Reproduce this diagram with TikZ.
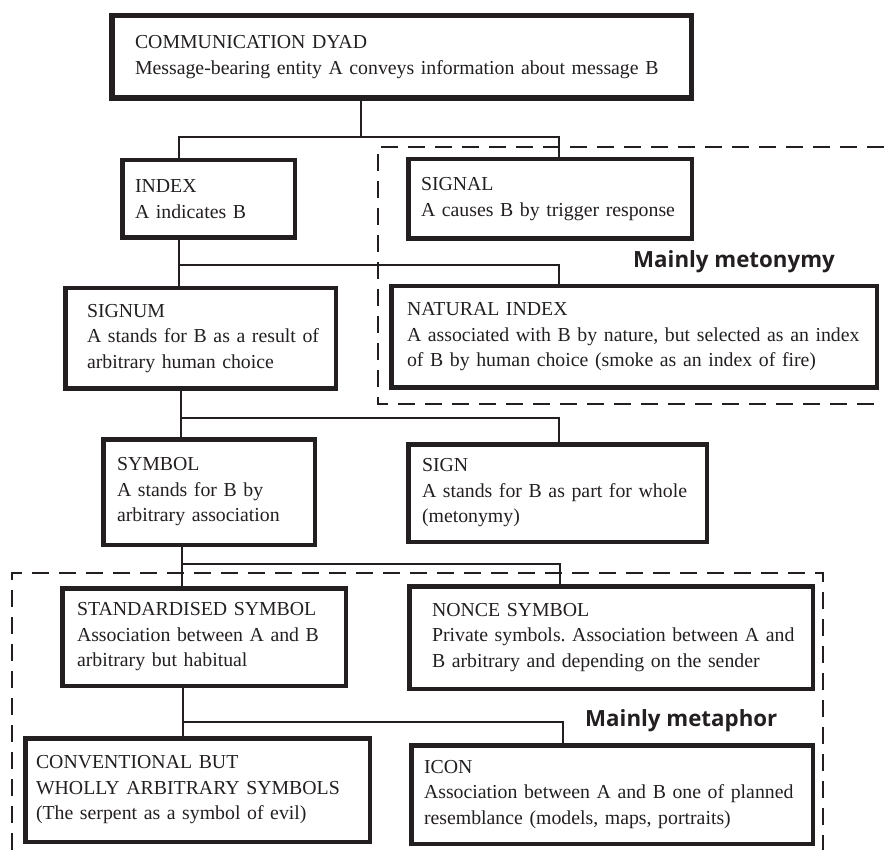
\documentclass[tikz,border=0pt]{standalone}
\usepackage{fontspec}
\setmainfont{Liberation Serif}
\newfontfamily\grpfont{Open Sans}
\newcommand\oneline[1]{\mbox{#1}}
\definecolor{ink}{HTML}{231F20}
\frenchspacing
\tikzset{
  box/.style={draw=ink, text=ink, line width=4.5pt, align=left, inner sep=0pt,
    font=\fontsize{19.8}{25.5}\selectfont},
  conn/.style={draw=ink, line width=2pt},
  grp/.style={draw=ink, line width=2pt, dash pattern=on 17pt off 10pt},
  grplabel/.style={text=ink, font=\grpfont\bfseries\fontsize{22.3}{26}\selectfont,
    anchor=base west, inner sep=0pt},
}
\begin{document}
\begin{tikzpicture}[x=1pt,y=-1pt]
\useasboundingbox (0,0) rectangle (884,850);

% group outlines
\draw[grp] (884,147) -- (378,147) -- (378,404) -- (884,404);
\draw[grp] (12,850) -- (12,573) -- (823,573) -- (823,850);

% boxes
\node[box, line width=5.5pt, minimum width=579.5pt, minimum height=82.5pt, text width=533pt] (dyad) at (401.5,57)
  {\oneline{COMMUNICATION DYAD}\\\oneline{Message-bearing entity A conveys information about message B}};
\node[box, minimum width=172.5pt, minimum height=77.5pt, text width=147pt] (index) at (208.5,199)
  {\oneline{INDEX}\\\oneline{A indicates B}};
\node[box, minimum width=283.5pt, minimum height=79.5pt, text width=258pt] (signal) at (550,199)
  {\oneline{SIGNAL}\\\oneline{A causes B by trigger response}};
\node[box, minimum width=485.5pt, minimum height=101.5pt, text width=454pt] (natural) at (634,337)
  {\oneline{NATURAL INDEX}\\\oneline{A associated with B by nature, but selected as an index}\\\oneline{of B by human choice (smoke as an index of fire)}};
\node[box, minimum width=270.5pt, minimum height=100.5pt, text width=227pt] (signum) at (200.5,338.5)
  {\oneline{SIGNUM}\\\oneline{A stands for B as a result of}\\\oneline{arbitrary human choice}};
\node[box, minimum width=211.5pt, minimum height=105.5pt, text width=184pt] (symbol) at (209,492)
  {\oneline{SYMBOL}\\\oneline{A stands for B by}\\\oneline{arbitrary association}};
\node[box, minimum width=298.5pt, minimum height=97.5pt, text width=271pt] (sign) at (557.5,493)
  {\oneline{SIGN}\\\oneline{A stands for B as part for whole}\\\oneline{(metonymy)}};
\node[box, minimum width=283.5pt, minimum height=97.5pt, text width=254pt] (standard) at (204,637)
  {\oneline{STANDARDISED SYMBOL}\\\oneline{Association between A and B}\\\oneline{arbitrary but habitual}};
\node[box, minimum width=403.5pt, minimum height=102.5pt, text width=358pt] (nonce) at (611,637.5)
  {\oneline{NONCE SYMBOL}\\\oneline{Private symbols. Association between A and}\\\oneline{B arbitrary and depending on the sender}};
\node[box, minimum width=344.5pt, minimum height=103.5pt, text width=323pt] (conventional) at (197.5,790)
  {\oneline{CONVENTIONAL BUT}\\\oneline{WHOLLY ARBITRARY SYMBOLS}\\\oneline{(The serpent as a symbol of evil)}};
\node[box, minimum width=401.5pt, minimum height=98.5pt, text width=376pt] (icon) at (612,794.5)
  {\oneline{ICON}\\\oneline{Association between A and B one of planned}\\\oneline{resemblance (models, maps, portraits)}};

% group labels
\node[grplabel] (metonymy) at (633,268) {Mainly metonymy};
\node[grplabel] (metaphor) at (585,726) {Mainly metaphor};

% connectors
\coordinate (j1) at (361,137);
\coordinate (j1l) at (179,137);
\coordinate (j1r) at (559,137);
\draw[conn] (dyad.south -| j1) -- (j1);
\draw[conn] (index.north -| j1l) -- (j1l) -- (j1r) -- (signal.north -| j1r);

\coordinate (j2l) at (179,265);
\coordinate (j2r) at (559,265);
\draw[conn] (index.south -| j2l) -- (signum.north -| j2l);
\draw[conn] (j2l) -- (j2r) -- (natural.north -| j2r);

\coordinate (j3l) at (181,418);
\coordinate (j3r) at (559,418);
\draw[conn] (signum.south -| j3l) -- (symbol.north -| j3l);
\draw[conn] (j3l) -- (j3r) -- (sign.north -| j3r);

\coordinate (j4l) at (182,564);
\coordinate (j4r) at (560,564);
\draw[conn] (symbol.south -| j4l) -- (standard.north -| j4l);
\draw[conn] (j4l) -- (j4r) -- (nonce.north -| j4r);

\coordinate (j5l) at (183,722);
\coordinate (j5r) at (563,722);
\draw[conn] (standard.south -| j5l) -- (conventional.north -| j5l);
\draw[conn] (j5l) -- (j5r) -- (icon.north -| j5r);
\end{tikzpicture}
\end{document}
